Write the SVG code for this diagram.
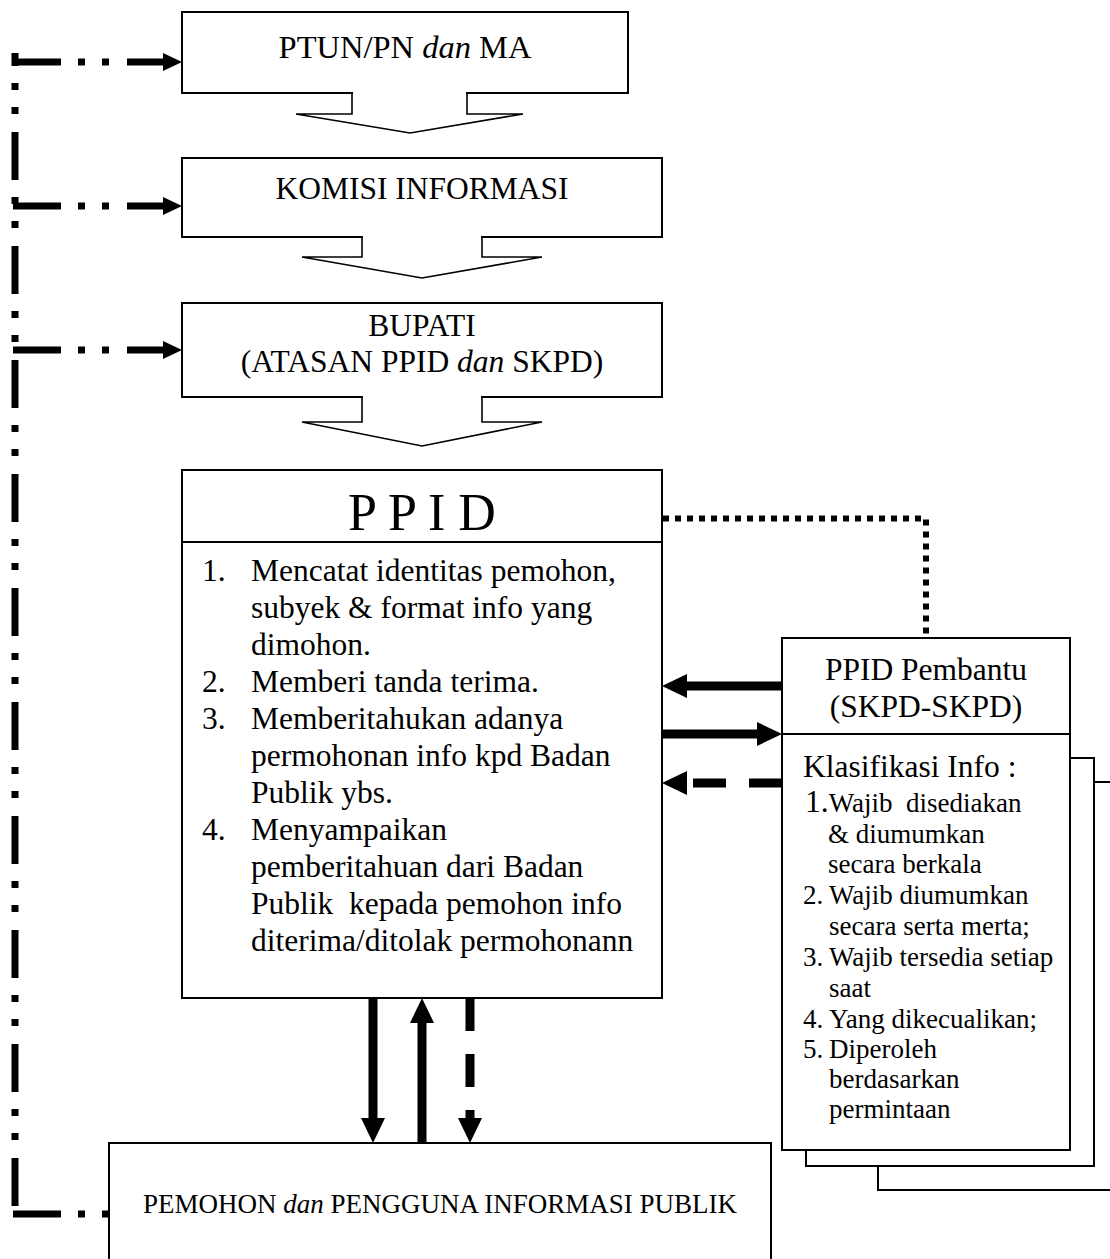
<svg xmlns="http://www.w3.org/2000/svg" width="1110" height="1259" viewBox="0 0 1110 1259">
<style>
.box{fill:#fff;stroke:#000;stroke-width:2}
.t{font-family:"Liberation Serif","Times New Roman",serif;fill:#000;font-size:31.5px}
.c{text-anchor:middle}
.s{font-size:27px}
.big{font-size:52px}
.blkf{fill:#fff;stroke:none}
.blkl{fill:none;stroke:#000;stroke-width:1.6}
.ddd{fill:none;stroke:#000;stroke-width:7;stroke-dasharray:48 17 7 17 7 18}
.dot{fill:none;stroke:#000;stroke-width:6;stroke-dasharray:6 6}
.solid{fill:none;stroke:#000;stroke-width:9}
.dash{fill:none;stroke:#000;stroke-width:9;stroke-dasharray:33 23}
.head{fill:#000}
</style>
<rect width="1110" height="1259" fill="#fff"/>
<g id="node-ptun">
<rect class="box" x="182" y="12" width="446" height="81"/>
<text class="t c" x="405" y="58" style="font-size:32.5px">PTUN/PN <tspan font-style="italic">dan</tspan> MA</text>
</g>
<g id="node-komisi">
<rect class="box" x="182" y="158" width="480" height="79"/>
<text class="t c" x="422" y="199">KOMISI INFORMASI</text>
</g>
<g id="node-bupati">
<rect class="box" x="182" y="303" width="480" height="94"/>
<text class="t c" x="422" y="336">BUPATI</text>
<text class="t c" x="422" y="372">(ATASAN PPID <tspan font-style="italic">dan</tspan> SKPD)</text>
</g>
<g id="node-ppid">
<rect class="box" x="182" y="470" width="480" height="528"/>
<line x1="182" y1="542" x2="662" y2="542" stroke="#000" stroke-width="2"/>
<text class="t c big" x="422" y="530">P P I D</text>
<g class="t">
<text x="202" y="581">1.</text><text x="251" y="581">Mencatat identitas pemohon,</text>
<text x="251" y="618">subyek &amp; format info yang</text>
<text x="251" y="655">dimohon.</text>
<text x="202" y="692">2.</text><text x="251" y="692">Memberi tanda terima.</text>
<text x="202" y="729">3.</text><text x="251" y="729">Memberitahukan adanya</text>
<text x="251" y="766">permohonan info kpd Badan</text>
<text x="251" y="803">Publik ybs.</text>
<text x="202" y="840">4.</text><text x="251" y="840">Menyampaikan</text>
<text x="251" y="877">pemberitahuan dari Badan</text>
<text x="251" y="914" xml:space="preserve">Publik  kepada pemohon info</text>
<text x="251" y="951">diterima/ditolak permohonann</text>
</g>
</g>
<g id="node-pembantu">
<rect class="box" x="878" y="782" width="260" height="408"/>
<rect class="box" x="806" y="758" width="288" height="408"/>
<rect class="box" x="782" y="638" width="288" height="512"/>
<line x1="782" y1="734" x2="1070" y2="734" stroke="#000" stroke-width="2"/>
<text class="t c" x="926" y="680">PPID Pembantu</text>
<text class="t c" x="926" y="717">(SKPD-SKPD)</text>
<text class="t" x="803" y="777">Klasifikasi Info :</text>
<g class="t s">
<text x="805" y="812" xml:space="preserve"><tspan font-size="31.5">1.</tspan>Wajib  disediakan</text>
<text x="828" y="843">&amp; diumumkan</text>
<text x="828" y="873">secara berkala</text>
<text x="803" y="904">2.</text><text x="829" y="904">Wajib diumumkan</text>
<text x="829" y="935">secara serta merta;</text>
<text x="803" y="966">3.</text><text x="829" y="966">Wajib tersedia setiap</text>
<text x="829" y="997">saat</text>
<text x="803" y="1028">4.</text><text x="829" y="1028">Yang dikecualikan;</text>
<text x="803" y="1058">5.</text><text x="829" y="1058">Diperoleh</text>
<text x="829" y="1088">berdasarkan</text>
<text x="829" y="1118">permintaan</text>
</g>
</g>
<g id="node-pemohon">
<rect class="box" x="109" y="1143" width="662" height="130"/>
<text class="t c s" x="440" y="1213">PEMOHON <tspan font-style="italic">dan</tspan> PENGGUNA INFORMASI PUBLIK</text>
</g>
<g id="connectors">
<path class="blkf" d="M353,90 V114 H296 L410,133 L523,114 H466 V90 Z"/>
<path class="blkl" d="M352,93 V114 H296 L410,133 L523,114 H467 V93"/>
<path class="blkf" d="M363,234 V257 H302 L422,278 L542,257 H481 V234 Z"/>
<path class="blkl" d="M362,237 V257 H302 L422,278 L542,257 H482 V237"/>
<path class="blkf" d="M363,394 V422 H302 L422,446 L542,422 H481 V394 Z"/>
<path class="blkl" d="M362,397 V422 H302 L422,446 L542,422 H482 V397"/>
<path class="ddd" d="M15,53 V1209" stroke-dashoffset="35"/>
<path class="ddd" d="M13,62 H166"/>
<polygon class="head" points="163,53 182,62 163,71"/>
<path class="ddd" d="M13,206 H166"/>
<polygon class="head" points="163,197 182,206 163,215"/>
<path class="ddd" d="M13,350 H166"/>
<polygon class="head" points="163,341 182,350 163,359"/>
<path class="ddd" d="M13,1214 H108"/>
<path class="dot" d="M663,518.5 H926 V637"/>
<path class="solid" d="M782,686 H684"/>
<polygon class="head" points="687,674 662,686 687,698"/>
<path class="solid" d="M662,734 H760"/>
<polygon class="head" points="757,722 782,734 757,746"/>
<path class="dash" d="M782,783 H684"/>
<polygon class="head" points="687,771 662,783 687,795"/>
<path class="solid" d="M373,998 V1121"/>
<polygon class="head" points="361,1118 373,1143 385,1118"/>
<path class="solid" d="M422,1143 V1020"/>
<polygon class="head" points="410,1023 422,998 434,1023"/>
<path class="dash" d="M470,998 V1121"/>
<polygon class="head" points="458,1118 470,1143 482,1118"/>
</g>
</svg>
